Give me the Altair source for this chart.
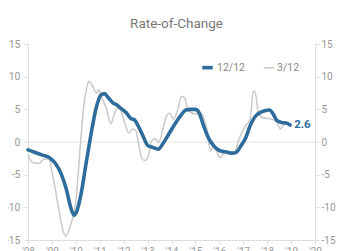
import altair as alt
import pandas as pd

series_names = ["12/12", "3/12"]

years_12 = [2008.0, 2008.3, 2008.6, 2008.9, 2009.15, 2009.4, 2009.6, 2009.8, 2009.92, 2010.05,
            2010.2, 2010.45, 2010.65, 2010.85, 2011.05, 2011.2, 2011.35, 2011.55, 2011.7, 2011.9,
            2012.1, 2012.3, 2012.45, 2012.6, 2012.8, 2013.0, 2013.2, 2013.45, 2013.65, 2013.9,
            2014.15, 2014.4, 2014.6, 2014.8, 2015.0, 2015.15, 2015.35, 2015.55, 2015.75, 2016.0,
            2016.25, 2016.5, 2016.7, 2016.9, 2017.1, 2017.3, 2017.5, 2017.7, 2017.9, 2018.1,
            2018.25, 2018.4, 2018.6, 2018.8, 2018.96]
vals_12 = [-1.2, -1.6, -2.0, -2.4, -3.3, -5.0, -7.2, -10.2, -11.2, -10.5,
           -8.3, -2.8, 1.5, 5.2, 7.2, 7.4, 6.8, 6.0, 5.7, 5.1,
           4.5, 3.6, 3.4, 2.5, 1.0, -0.5, -0.8, -1.1, -0.2, 1.3,
           2.8, 4.1, 4.9, 5.0, 5.0, 4.5, 2.4, 0.6, -0.5, -1.3,
           -1.5, -1.7, -1.6, -0.6, 0.6, 2.6, 3.9, 4.5, 4.8, 4.9,
           4.3, 3.3, 3.0, 2.9, 2.6]

years_3 = [2008.0, 2008.17, 2008.46, 2008.67, 2008.88, 2009.0, 2009.3, 2009.46, 2009.58, 2009.75,
           2010.0, 2010.2, 2010.33, 2010.46, 2010.54, 2010.67, 2010.8, 2010.88, 2010.96, 2011.08,
           2011.29, 2011.46, 2011.63, 2011.8, 2012.0, 2012.21, 2012.38, 2012.5, 2012.67, 2012.79,
           2012.92, 2013.04, 2013.17, 2013.33, 2013.46, 2013.63, 2013.79, 2013.92, 2014.08, 2014.25,
           2014.42, 2014.54, 2014.71, 2015.0, 2015.25, 2015.46, 2015.63, 2015.75, 2015.88, 2016.04,
           2016.25, 2016.5, 2016.67, 2016.79, 2017.08, 2017.29, 2017.42, 2017.5, 2017.63, 2017.83,
           2018.17, 2018.38, 2018.54, 2018.67, 2018.79, 2018.96]
vals_3 = [-1.9, -3.1, -3.3, -2.6, -2.6, -4.5, -10.5, -13.5, -14.4, -13.0,
          -9.0, 0.0, 5.5, 8.3, 9.3, 8.8, 7.8, 7.5, 8.0, 6.8,
          5.0, 2.8, 4.5, 5.3, 3.5, 1.4, 2.0, 1.8, -1.2, -2.7,
          -2.8, -2.0, 0.2, 0.5, -0.1, 1.8, 4.0, 4.4, 3.5, 4.8,
          7.0, 6.8, 4.8, 4.3, 4.4, 2.2, -1.4, -0.6, -1.4, -2.4,
          -1.4, -1.9, -1.4, 0.1, 2.4, 3.5, 7.8, 7.6, 4.5, 3.7,
          3.5, 3.2, 2.0, 2.5, 2.9, 2.4]

x_ticks = list(range(2008, 2021))
y_ticks = [-15, -10, -5, 0, 5, 10, 15]

BLUE = "#2e6c9c"
GRAY = "#c9c9c9"
FONT = "Roboto"

df = pd.concat([
    pd.DataFrame({"year": years_3, "value": vals_3, "series": series_names[1]}),
    pd.DataFrame({"year": years_12, "value": vals_12, "series": series_names[0]}),
])
last = pd.DataFrame({"year": [years_12[-1]], "value": [vals_12[-1]]})

xs = alt.Scale(domain=[2008, 2020], nice=False, zero=False)
ys = alt.Scale(domain=[-15, 15], nice=False)

x_axis = alt.Axis(values=x_ticks, labelExpr="\"'\" + slice(toString(datum.value), 2)",
                  title=None, grid=False, domainColor="#dddddd", tickColor="#dddddd",
                  tickSize=4, labelColor="#999999", labelFont=FONT, labelFontSize=10,
                  labelPadding=2, labelFlush=False)

def y_axis(orient):
    return alt.Axis(orient=orient, values=y_ticks, title=None, grid=False,
                    labelExpr="toString(datum.value)",
                    domainColor="#dddddd", tickColor="#dddddd", tickSize=4,
                    labelColor="#999999", labelFont=FONT,
                    labelFontSize=10 if orient == "right" else 10.5,
                    labelPadding=2 if orient == "right" else 4)

X = alt.X("year:Q", scale=xs, axis=x_axis)

zero = alt.Chart(pd.DataFrame({"v": [0]})).mark_rule(color="#e3e3e3", strokeWidth=1).encode(
    y=alt.Y("v:Q", scale=ys, axis=None)
)

color_scale = alt.Scale(domain=series_names, range=[BLUE, GRAY])
width_scale = alt.Scale(domain=series_names, range=[3.6, 1.5])
legend = alt.Legend(title=None, orient="none", legendX=172, legendY=16, direction="horizontal",
                    symbolType="stroke", symbolSize=110, labelColor="#888888",
                    labelFont=FONT, labelFontSize=10.5, columnPadding=15, labelOffset=2)

gray_line = alt.Chart(df).transform_filter(alt.datum.series == series_names[1]).mark_line(
    interpolate="monotone").encode(
    x=X,
    y=alt.Y("value:Q", scale=ys, axis=y_axis("left")),
    color=alt.Color("series:N", scale=color_scale, legend=legend),
    strokeWidth=alt.StrokeWidth("series:N", scale=width_scale, legend=legend),
)

blue_line = alt.Chart(df).transform_filter(alt.datum.series == series_names[0]).mark_line(
    interpolate="monotone", strokeCap="round").encode(
    x=X,
    y=alt.Y("value:Q", scale=ys, axis=y_axis("right")),
    color=alt.Color("series:N", scale=color_scale, legend=legend),
    strokeWidth=alt.StrokeWidth("series:N", scale=width_scale, legend=legend),
)

label = alt.Chart(last).mark_text(align="left", baseline="middle", dx=4, fontWeight="bold",
                                  font=FONT, fontSize=11.5, color=BLUE).encode(
    x=X,
    y=alt.Y("value:Q", scale=ys, axis=None),
    text=alt.Text("value:Q", format=".1f"),
)

chart = alt.layer(zero, gray_line, blue_line, label).resolve_axis(
    y="independent"
).properties(
    width=287, height=196,
    title=alt.TitleParams("Rate-of-Change", font=FONT, fontSize=13.5, fontWeight="normal",
                          color="#777777", anchor="middle", frame="group", dx=5, offset=9),
    background="white",
    padding={"left": 20, "top": 36, "right": 21, "bottom": 15},
    autosize=alt.AutoSizeParams(type="none"),
).configure_view(stroke=None)

chart.save("out.html", embed_options={"renderer": "svg", "actions": False})
